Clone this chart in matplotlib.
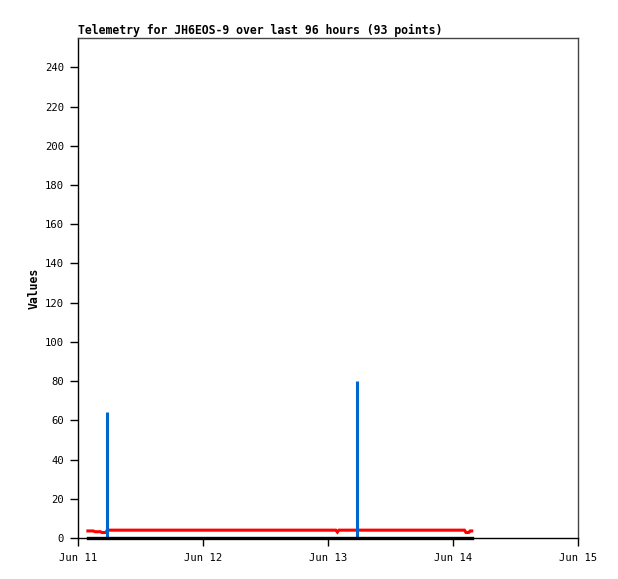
from datetime import datetime, timedelta

import matplotlib
matplotlib.use('Agg')
from matplotlib import pyplot as plt
import matplotlib.dates as mdates

# hours after Jun 11 00:00
start = datetime(2023, 6, 11)

red_hours = [1.9, 2.9, 3.3, 4.3, 4.6, 5.4, 5.6, 49.5, 49.8, 50.1, 74.2, 74.5, 75.0, 75.3, 75.6]
red_values = [3.6, 3.6, 3.2, 3.2, 2.8, 2.8, 4.0, 4.0, 3.0, 4.0, 4.0, 2.8, 2.8, 3.6, 3.6]

blue_hours = [5.6, 53.6]
blue_values = [64.5, 80]

black_hours = [1.9, 75.6]
black_values = [0, 0]

x_ticks = [datetime(2023, 6, d) for d in (11, 12, 13, 14, 15)]
y_ticks = list(range(0, 241, 20))

title = 'Telemetry for JH6EOS-9 over last 96 hours (93 points)'

plt.rcParams['font.family'] = ['DejaVu Sans Mono']


def to_dates(hours):
    return [start + timedelta(hours=h) for h in hours]


fig = plt.figure(figsize=(6.18, 5.79), dpi=100)
ax = fig.add_axes([78 / 618, 41 / 579, 500 / 618, 500 / 579])

ax.plot(to_dates(red_hours), red_values, color='#ff0000', lw=2.2, solid_joinstyle='miter', zorder=3)
ax.vlines(to_dates(blue_hours), 0, blue_values, color='#0066cc', lw=2.2, zorder=4)
ax.plot(to_dates(black_hours), black_values, color='black', lw=2.4, clip_on=False, zorder=5)

ax.set_xlim(x_ticks[0], x_ticks[-1])
ax.set_ylim(0, 255)
ax.set_xticks(x_ticks)
ax.xaxis.set_major_formatter(mdates.DateFormatter('%b %d'))
ax.set_yticks(y_ticks)
ax.tick_params(direction='out', length=6, width=1, labelsize=7.6, colors='black')
ax.tick_params(axis='x', pad=5)
ax.tick_params(axis='y', pad=4)

for side in ('top', 'right'):
    ax.spines[side].set_color('#444444')
for side in ('left', 'bottom'):
    ax.spines[side].set_color('black')
for s in ax.spines.values():
    s.set_linewidth(1)

ax.set_ylabel('Values', fontsize=8.3, fontweight='bold', labelpad=3)
ax.set_title(title, loc='left', fontsize=8.3, fontweight='bold', pad=3)

fig.savefig('out.png', dpi=100)
